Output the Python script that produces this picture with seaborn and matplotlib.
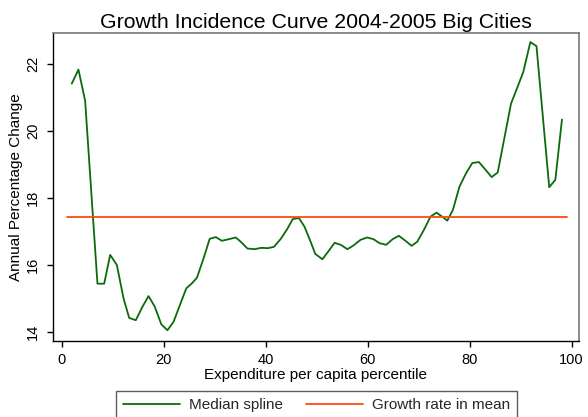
import matplotlib
matplotlib.use("Agg")
import matplotlib.pyplot as plt
import seaborn as sns
import pandas as pd

# ---- data ----
percentile = [1.94, 3.25, 4.56, 6.98, 8.30, 9.47, 10.78, 12.10, 13.20, 14.50,
              15.80, 17.00, 18.20, 19.50, 20.70, 21.90, 23.20, 24.40, 25.50, 26.50,
              27.80, 29.00, 30.20, 31.40, 32.80, 34.10, 35.10, 36.40, 37.80, 39.10,
              40.40, 41.60, 42.90, 44.20, 45.30, 46.50, 47.60, 48.80, 49.70, 51.10,
              52.40, 53.50, 54.70, 56.00, 57.10, 58.60, 59.90, 61.10, 62.30, 63.60,
              64.90, 66.10, 67.40, 68.60, 69.70, 71.00, 72.30, 73.50, 74.70, 75.60,
              76.70, 78.00, 79.30, 80.50, 81.80, 83.00, 84.30, 85.50, 88.10, 90.50,
              91.90, 93.10, 95.60, 96.80, 98.10]
median_spline = [21.41, 21.83, 20.90, 15.44, 15.44, 16.30, 16.00, 15.00, 14.42, 14.35,
                 14.75, 15.07, 14.76, 14.23, 14.05, 14.30, 14.82, 15.30, 15.45, 15.62,
                 16.20, 16.78, 16.83, 16.72, 16.77, 16.82, 16.69, 16.49, 16.47, 16.51,
                 16.50, 16.54, 16.77, 17.07, 17.37, 17.40, 17.14, 16.69, 16.33, 16.17,
                 16.43, 16.66, 16.60, 16.47, 16.57, 16.75, 16.82, 16.77, 16.65, 16.60,
                 16.77, 16.87, 16.72, 16.57, 16.69, 17.04, 17.44, 17.56, 17.43, 17.32,
                 17.64, 18.34, 18.74, 19.04, 19.07, 18.86, 18.62, 18.76, 20.81, 21.75,
                 22.65, 22.53, 18.32, 18.54, 20.34]
mean_range = [1, 99]
mean_growth = [17.42, 17.42]

x_ticks = [0, 20, 40, 60, 80, 100]
y_ticks = [14, 16, 18, 20, 22]

title = "Growth Incidence Curve 2004-2005 Big Cities"
x_label = "Expenditure per capita percentile"
y_label = "Annual Percentage Change"
series_names = ["Median spline", "Growth rate in mean"]

# ---- styling ----
sns.set_theme(style="ticks")
plt.rcParams["font.family"] = ["Liberation Sans", "DejaVu Sans"]

W, H = 588, 417
fig = plt.figure(figsize=(W / 100, H / 100), dpi=100)
left, right, top, bottom = 52.5, 579.3, 32.7, 341.0
ax = fig.add_axes([left / W, 1 - bottom / H, (right - left) / W, (bottom - top) / H])

df_spline = pd.DataFrame({"pct": percentile, "val": median_spline})
df_mean = pd.DataFrame({"pct": mean_range, "val": mean_growth})

sns.lineplot(data=df_spline, x="pct", y="val", ax=ax, color="#0b6b0b",
             linewidth=1.3, label=series_names[0])
sns.lineplot(data=df_mean, x="pct", y="val", ax=ax, color="#ff4a12",
             linewidth=1.3, label=series_names[1])

ax.set_xlim(-1.84, 101.5)
ax.set_ylim(13.73, 22.93)
ax.set_xticks(x_ticks)
ax.set_yticks(y_ticks)
ax.tick_params(axis="both", labelsize=10.5, length=4, width=1, color="black",
               labelcolor="black")
ax.tick_params(axis="x", pad=5.0)
ax.tick_params(axis="y", pad=5.0)
for lab in ax.get_yticklabels():
    lab.set_rotation(90)
    lab.set_va("center")

ax.set_xlabel(x_label, fontsize=11, labelpad=0.5, color="black")
ax.set_ylabel(y_label, fontsize=11, labelpad=2, color="black")

for side in ["left", "bottom"]:
    ax.spines[side].set_color("black")
    ax.spines[side].set_linewidth(1.0)
for side in ["top", "right"]:
    ax.spines[side].set_visible(True)
    ax.spines[side].set_color("#777777")
    ax.spines[side].set_linewidth(1.2)

fig.text((left + right) / 2 / W, 1 - 28.5 / H, title, ha="center", va="baseline",
         fontsize=15.3, color="black")

handles, labels = ax.get_legend_handles_labels()
ax.get_legend().remove()
leg = fig.legend(handles, labels, loc="upper center", ncol=2,
                 bbox_to_anchor=(316.5 / W, 1 - 391 / H), fontsize=11,
                 frameon=True, fancybox=False, handlelength=3.77,
                 handletextpad=0.59, columnspacing=1.46, borderpad=0.45,
                 borderaxespad=0)
leg.get_frame().set_edgecolor("#333333")
leg.get_frame().set_linewidth(1.0)

fig.savefig("out.png", dpi=100)
